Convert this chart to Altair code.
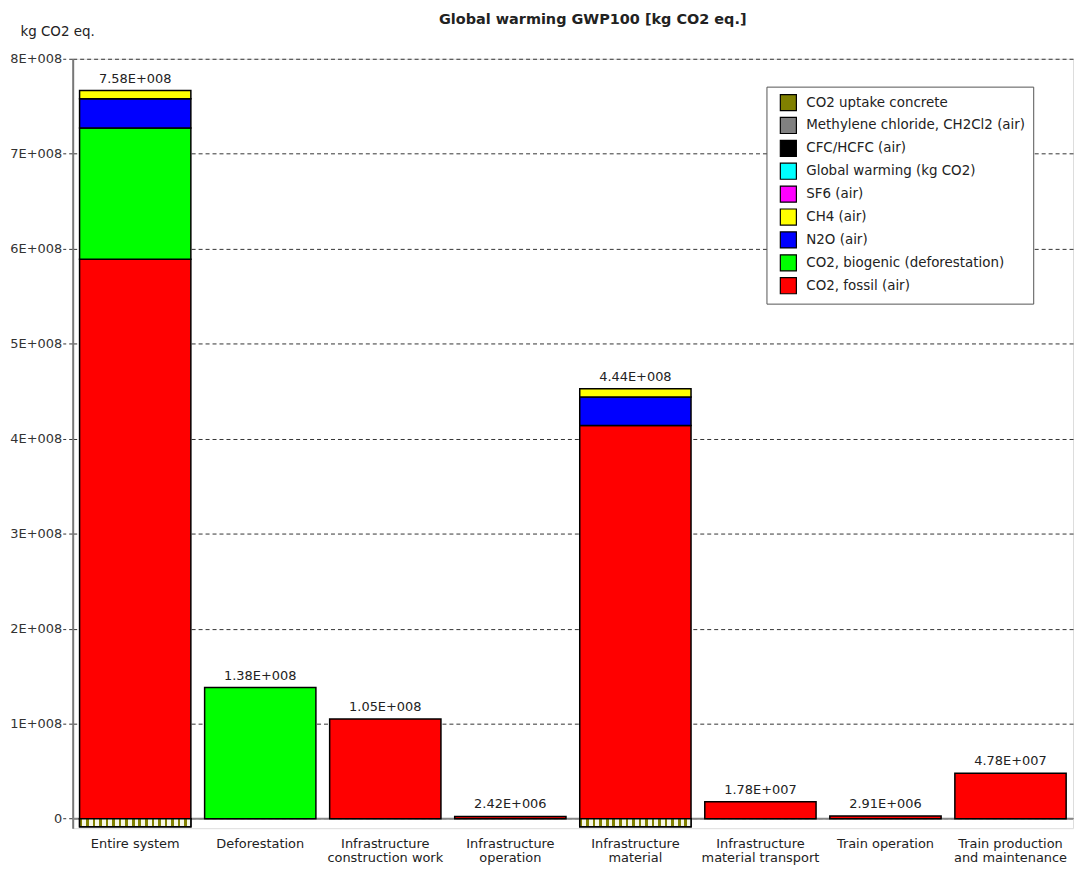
import altair as alt
import pandas as pd

categories = [
    "Entire system",
    "Deforestation",
    "Infrastructure|construction work",
    "Infrastructure|operation",
    "Infrastructure|material",
    "Infrastructure|material transport",
    "Train operation",
    "Train production|and maintenance",
]

series_names = [
    "CO2 uptake concrete",
    "Methylene chloride, CH2Cl2 (air)",
    "CFC/HCFC (air)",
    "Global warming (kg CO2)",
    "SF6 (air)",
    "CH4 (air)",
    "N2O (air)",
    "CO2, biogenic (deforestation)",
    "CO2, fossil (air)",
]
series_colors = ["#808000", "#808080", "#000000", "#00FFFF", "#FF00FF",
                 "#FFFF00", "#0000FF", "#00FF00", "#FF0000"]

co2_fossil = [5.89e8, 0, 1.05e8, 2.42e6, 4.14e8, 1.78e7, 2.91e6, 4.78e7]
co2_biogenic = [1.38e8, 1.38e8, 0, 0, 0, 0, 0, 0]
n2o = [3.1e7, 0, 0, 0, 3.0e7, 0, 0, 0]
ch4 = [8.5e6, 0, 0, 0, 8.5e6, 0, 0, 0]
co2_uptake_concrete = [-8.5e6, 0, 0, 0, -8.5e6, 0, 0, 0]

total_labels = ["7.58E+008", "1.38E+008", "1.05E+008", "2.42E+006",
                "4.44E+008", "1.78E+007", "2.91E+006", "4.78E+007"]

stack_series = [
    ("CO2, fossil (air)", co2_fossil),
    ("CO2, biogenic (deforestation)", co2_biogenic),
    ("N2O (air)", n2o),
    ("CH4 (air)", ch4),
    ("CO2 uptake concrete", co2_uptake_concrete),
]

rows = []
for idx, (name, vals) in enumerate(stack_series):
    for c, v in zip(categories, vals):
        if v != 0:
            rows.append({"category": c, "series": name, "value": v, "stack_idx": idx})
df = pd.DataFrame(rows)

tops = []
for i, c in enumerate(categories):
    pos = sum(vals[i] for _, vals in stack_series if vals[i] > 0)
    tops.append({"category": c, "top": pos, "label": total_labels[i]})
df_tot = pd.DataFrame(tops)

FONT = "DejaVu Sans"
ydomain = [-10e6, 8e8]

xenc = alt.X(
    "category:N", sort=categories, title=None,
    scale=alt.Scale(paddingInner=0.11, paddingOuter=0.055),
    axis=alt.Axis(labelAngle=0, labelExpr="split(datum.label, '|')", ticks=False,
                  domain=False, labelPadding=9, labelFontSize=13, labelColor="#222",
                  labelFont=FONT, labelLineHeight=14, labelBaseline="top"),
)
yscale = alt.Scale(domain=ydomain, nice=False, zero=False)
yaxis = alt.Axis(
    values=[0, 1e8, 2e8, 3e8, 4e8, 5e8, 6e8, 7e8, 8e8],
    labelExpr="datum.value == 0 ? '0' : format(datum.value / 1e8, 'd') + 'E+008'",
    grid=True, gridDash=[4, 3], gridColor="#333", gridWidth=1,
    tickSize=10, tickDash=[4, 3], tickColor="#333",
    domainColor="#777", domainWidth=2,
    labelFontSize=13, labelFont=FONT, labelColor="#333", labelPadding=1,
    title="kg CO2 eq.", titleAngle=0, titleAlign="left", titleBaseline="middle",
    titleX=-53, titleY=-27, titleFontWeight="normal", titleFontSize=13.5,
    titleFont=FONT, titleColor="#222",
)

zero_line = alt.Chart(pd.DataFrame({"zero": [0]})).mark_rule(
    color="#888", strokeWidth=2
).encode(y=alt.Y("zero:Q", scale=yscale, axis=yaxis))

bars = alt.Chart(df).mark_bar(stroke="black", strokeWidth=1.5).encode(
    x=xenc,
    y=alt.Y("value:Q", stack="zero", scale=yscale, axis=yaxis),
    color=alt.Color(
        "series:N",
        scale=alt.Scale(domain=series_names, range=series_colors),
        legend=alt.Legend(
            title=None, orient="none", legendX=697, legendY=28,
            symbolType="square", symbolSize=260, symbolStrokeColor="black",
            symbolStrokeWidth=1.2, symbolOpacity=1, symbolOffset=6,
            labelFontSize=13.5, labelFont=FONT, labelColor="#222", labelLimit=400,
            rowPadding=1, padding=7, strokeColor="#555", fillColor="white",
            labelOffset=9,
        ),
    ),
    order=alt.Order("stack_idx:Q"),
)

n = 17
stops = []
for i in range(n):
    a = i / n
    b = (i + 0.4) / n
    e = (i + 1) / n
    stops += [alt.GradientStop(color="#808000", offset=a),
              alt.GradientStop(color="#808000", offset=b),
              alt.GradientStop(color="#f6f6e6", offset=b),
              alt.GradientStop(color="#f6f6e6", offset=e)]
hatch = alt.Gradient(gradient="linear", stops=stops, x1=0, x2=1, y1=0, y2=0)

hatched = alt.Chart(df).transform_filter(
    alt.datum.series == "CO2 uptake concrete"
).mark_bar(stroke="black", strokeWidth=1.5, fill=hatch).encode(
    x=xenc,
    y=alt.Y("value:Q", stack=None, scale=yscale),
    y2=alt.datum(0),
)

labels = alt.Chart(df_tot).mark_text(
    baseline="bottom", dy=-5, fontSize=13, font=FONT, color="#222"
).encode(
    x=xenc,
    y=alt.Y("top:Q", scale=yscale),
    text="label:N",
)

chart = alt.layer(zero_line, bars, hatched, labels).properties(
    width=1005, height=773,
    autosize=alt.AutoSizeParams(type="none"),
    padding={"left": 65, "top": 49, "right": 5, "bottom": 38},
    title=alt.TitleParams(
        "Global warming GWP100 [kg CO2 eq.]", fontSize=14.5, fontWeight="bold",
        font=FONT, anchor="middle", color="#222", dx=20, dy=3, offset=0,
    ),
).configure_view(stroke=None).configure(background="white")

chart.save("out.html", embed_options={"renderer": "svg", "actions": False})
